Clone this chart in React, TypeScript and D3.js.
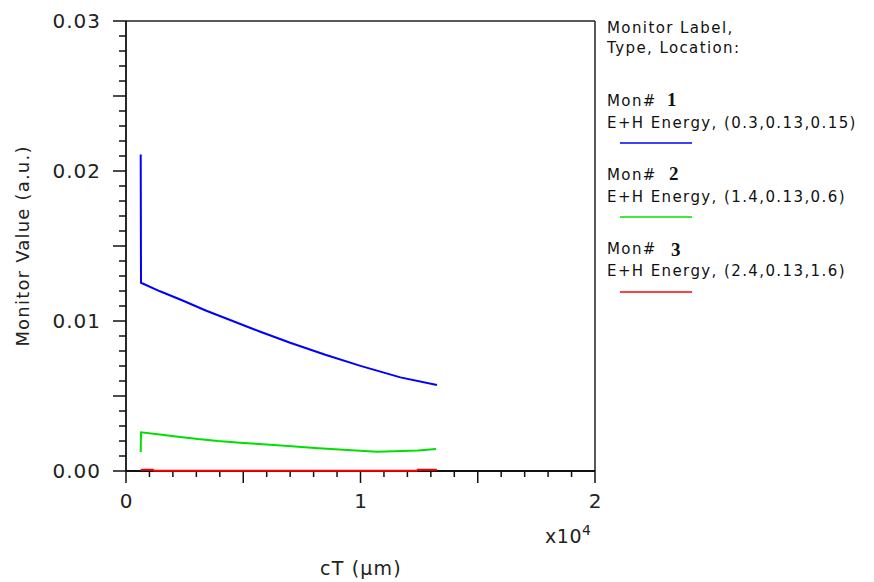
import React from "react";
import * as d3 from "d3";

const W = 874;
const H = 582;

// Data (cT in µm, monitor value in a.u.)
const mon1X = [627, 640, 1450, 2440, 3400, 4440, 5700, 7000, 8500, 10000, 11700, 13260];
const mon1Y = [0.0211, 0.01255, 0.01198, 0.01135, 0.0107, 0.01007, 0.0093, 0.00855, 0.00775, 0.00701, 0.00624, 0.00573];

const mon2X = [627, 640, 1450, 2217, 3070, 3923, 4861, 5842, 6908, 8060, 9254, 10704, 12452, 13220];
const mon2Y = [0.00127, 0.00258, 0.00244, 0.00229, 0.00213, 0.002, 0.00189, 0.00178, 0.00167, 0.00153, 0.00142, 0.00129, 0.00136, 0.00147];

const mon3X = [627, 1150, 1200, 12400, 12450, 13260];
const mon3Y = [0.00008, 0.00008, 0.00001, 0.00001, 0.00008, 0.00008];

const xTickValues = [0, 10000, 20000];
const xTickLabels = ["0", "1", "2"];
const yTickValues = [0, 0.01, 0.02, 0.03];
const yTickLabels = ["0.00", "0.01", "0.02", "0.03"];

const legendNums = ["1", "2", "3"];
const legendLocs = [
  "E+H Energy, (0.3,0.13,0.15)",
  "E+H Energy, (1.4,0.13,0.6)",
  "E+H Energy, (2.4,0.13,1.6)",
];
const seriesColors = ["#0000ff", "#00e000", "#ff0000"];

const FONT = "'DejaVu Sans', Verdana, sans-serif";

export default function App() {
  const x = d3.scaleLinear().domain([0, 20000]).range([126, 595]);
  const y = d3.scaleLinear().domain([0, 0.03]).range([471, 21]);

  const line = d3
    .line<[number, number]>()
    .x((d) => x(d[0]))
    .y((d) => y(d[1]));

  const series = [
    mon1X.map((v, i) => [v, mon1Y[i]] as [number, number]),
    mon2X.map((v, i) => [v, mon2Y[i]] as [number, number]),
    mon3X.map((v, i) => [v, mon3Y[i]] as [number, number]),
  ];

  const xMinor = x.ticks(20);
  const yMinor = y.ticks(30);

  const x0 = x(0);
  const x1 = x(20000);
  const y0 = y(0);
  const y1 = y(0.03);

  return (
    <svg
      width={W}
      height={H}
      style={{ position: "absolute", left: 0, top: 0, background: "#fff" }}
      fontFamily={FONT}
    >
      <rect x={0} y={0} width={W} height={H} fill="#fff" />
      {/* frame */}
      <line x1={x0} x2={x1} y1={y1} y2={y1} stroke="#222" strokeWidth={1.5} />
      <line x1={x1} x2={x1} y1={y1} y2={y0} stroke="#222" strokeWidth={1.5} />
      <line x1={x0} x2={x0} y1={y1} y2={y0} stroke="#111" strokeWidth={1.8} />
      <line x1={x0} x2={x1} y1={y0} y2={y0} stroke="#111" strokeWidth={1.8} />

      {/* y ticks */}
      {yMinor.map((v, i) => {
        const major = Math.round(v * 1000) % 5 === 0;
        return (
          <line
            key={"yt" + i}
            x1={x0 - (major ? 13 : 7)}
            x2={x0}
            y1={y(v)}
            y2={y(v)}
            stroke="#111"
            strokeWidth={1.5}
          />
        );
      })}
      {/* x ticks */}
      {xMinor.map((v, i) => {
        const major = Math.round(v / 1000) % 5 === 0;
        return (
          <line
            key={"xt" + i}
            x1={x(v)}
            x2={x(v)}
            y1={y0}
            y2={y0 + (major ? 12 : 6)}
            stroke="#111"
            strokeWidth={1.5}
          />
        );
      })}

      {/* tick labels */}
      {yTickValues.map((v, i) => (
        <text
          key={"yl" + i}
          x={101}
          y={y(v) + 7}
          textAnchor="end"
          fontSize={20}
          fill="#222"
          letterSpacing={1}
        >
          {yTickLabels[i]}
        </text>
      ))}
      {xTickValues.map((v, i) => (
        <text
          key={"xl" + i}
          x={x(v)}
          y={508}
          textAnchor="middle"
          fontSize={20}
          fill="#222"
        >
          {xTickLabels[i]}
        </text>
      ))}
      <text x={582} y={543} textAnchor="end" fontSize={19} fill="#222" letterSpacing={0.5}>
        x10
      </text>
      <text x={582} y={535} fontSize={14} fill="#222">
        4
      </text>

      {/* axis titles */}
      <text x={361} y={575} textAnchor="middle" fontSize={19} fill="#222" letterSpacing={1.2}>
        cT (µm)
      </text>
      <text
        transform={`translate(29, ${(y0 + y1) / 2}) rotate(-90)`}
        textAnchor="middle"
        fontSize={18}
        fill="#222"
        letterSpacing={1.2}
      >
        Monitor Value (a.u.)
      </text>

      {/* series */}
      {series.map((s, i) => (
        <path
          key={"s" + i}
          d={line(s) || ""}
          fill="none"
          stroke={seriesColors[i]}
          strokeWidth={2}
        />
      ))}

      {/* legend */}
      <g fill="#111" fontSize={15}>
        <text x={607} y={33} letterSpacing={1.4}>
          Monitor Label,
        </text>
        <text x={607} y={53} letterSpacing={1.4}>
          Type, Location:
        </text>
        {legendNums.map((n, i) => {
          const base = [106, 180, 254][i];
          const lineY = [143, 217, 292][i];
          return (
            <g key={"lg" + i}>
              <text x={607} y={base} letterSpacing={1.4}>
                Mon#
              </text>
              <text
                x={667 + i * 2}
                y={base + (i === 2 ? 2 : 0)}
                fontFamily="'Liberation Serif', 'Times New Roman', serif"
                fontWeight="bold"
                fontSize={19}
              >
                {n}
              </text>
              <text x={607} y={base + 22} letterSpacing={1.4}>
                {legendLocs[i]}
              </text>
              <line
                x1={620}
                x2={692}
                y1={lineY}
                y2={lineY}
                stroke={seriesColors[i]}
                strokeWidth={1.5}
              />
            </g>
          );
        })}
      </g>
    </svg>
  );
}
